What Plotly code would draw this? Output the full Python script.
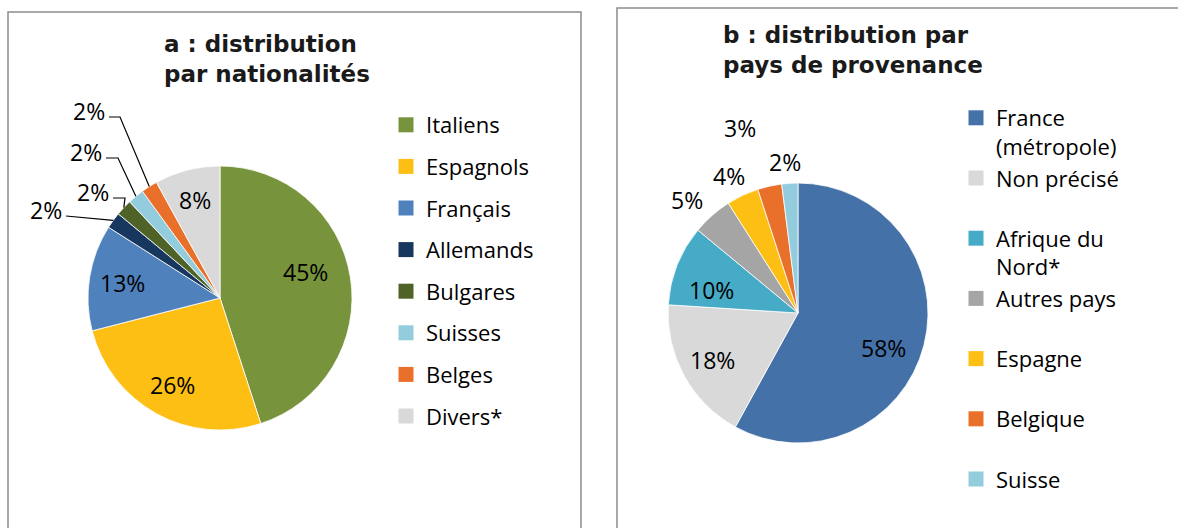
import math
import plotly.graph_objects as go

W, H = 1178, 528

# ---------------- data ----------------
nat_labels = ["Italiens", "Espagnols", "Français", "Allemands", "Bulgares",
              "Suisses", "Belges", "Divers*"]
nat_values = [45, 26, 13, 2, 2, 2, 2, 8]

prov_labels = ["France<br>(métropole)", "Non précisé", "Afrique du<br>Nord*",
               "Autres pays", "Espagne", "Belgique", "Suisse"]
prov_values = [58, 18, 10, 5, 4, 3, 2]

title_a = "a : distribution<br>par nationalités"
title_b = "b : distribution par<br>pays de provenance"

# ---------------- style ----------------
nat_colors = ["#77933C", "#FDBF14", "#4F81BD", "#17375E", "#4F6228",
              "#93CDDD", "#E8702A", "#D9D9D9"]
prov_colors = ["#4472A8", "#D9D9D9", "#46ABC6", "#A5A5A5", "#FDBF14",
               "#E8702A", "#93CDDD"]

PIE_A = dict(cx=220, cy=298, r=132)
PIE_B = dict(cx=798, cy=313, r=130)

LABEL_FONT = dict(family="Open Sans", size=23, color="#000000")
LEGEND_FONT = dict(family="Open Sans", size=22, color="#000000")
TITLE_FONT = dict(family="DejaVu Sans", size=23, color="#1a1a1a")

# inside labels: (radial fraction, angle nudge in degrees) from slice mid-angle
inner_a = {0: (0.68, -8), 1: (0.75, 0), 2: (0.75, 0), 7: (0.77, 0)}
inner_b = {0: (0.71, 8), 1: (0.75, 0), 2: (0.69, -7)}
# outside labels: label centre (px) ; leader horizontal length
outer_a = {3: ((46, 210), 0), 4: ((93, 192), 12), 5: ((86, 152), 12), 6: ((89, 111), 11)}
outer_b = {3: (687, 200), 4: (729, 176), 5: (740, 128), 6: (785, 162)}


def fx(px):
    return px / W


def fy(py):
    return 1 - py / H


def domain(p):
    return dict(x=[fx(p["cx"] - p["r"]), fx(p["cx"] + p["r"])],
                y=[fy(p["cy"] + p["r"]), fy(p["cy"] - p["r"])])


def mid_angles(values):
    tot = float(sum(values))
    out, c = [], 0.0
    for v in values:
        out.append((c + v / 2.0) / tot * 360.0)
        c += v
    return out


def on_pie(p, ang, rf):
    a = math.radians(ang)
    return p["cx"] + rf * p["r"] * math.sin(a), p["cy"] - rf * p["r"] * math.cos(a)


def pct(values):
    tot = float(sum(values))
    return [f"{round(v / tot * 100)}%" for v in values]


def label(x, y, text):
    return dict(x=fx(x), y=fy(y), text=text, showarrow=False, xref="paper",
                yref="paper", xanchor="center", yanchor="middle", font=LABEL_FONT)


fig = go.Figure()

fig.add_trace(go.Pie(labels=nat_labels, values=nat_values, sort=False,
                     direction="clockwise", rotation=0, domain=domain(PIE_A),
                     marker=dict(colors=nat_colors, line=dict(color="white", width=0.8)),
                     textinfo="none", showlegend=False, hoverinfo="label+percent"))
fig.add_trace(go.Pie(labels=prov_labels, values=prov_values, sort=False,
                     direction="clockwise", rotation=0, domain=domain(PIE_B),
                     marker=dict(colors=prov_colors, line=dict(color="white", width=0.8)),
                     textinfo="none", showlegend=False, hoverinfo="label+percent"))

# legends via square markers
for i, (lab, col) in enumerate(zip(nat_labels, nat_colors)):
    fig.add_trace(go.Scatter(x=[None], y=[None], mode="markers", name=lab,
                             legendgroup=f"a{i}", legend="legend",
                             marker=dict(symbol="square", size=15, color=col)))
for lab, col in zip(prov_labels, prov_colors):
    txt = lab if "<br>" in lab else lab + "<br>\u00a0"
    fig.add_trace(go.Scatter(x=[None], y=[None], mode="markers", name=txt,
                             legend="legend2",
                             marker=dict(symbol="square", size=15, color=col)))

annotations = []
shapes = []

# pie A labels
ang_a = mid_angles(nat_values)
txt_a = pct(nat_values)
for i, (rf, da) in inner_a.items():
    x, y = on_pie(PIE_A, ang_a[i] + da, rf)
    annotations.append(label(x, y, txt_a[i]))
for i, ((lx, ly), h) in outer_a.items():
    annotations.append(label(lx, ly, txt_a[i]))
    rx, ry = on_pie(PIE_A, ang_a[i], 1.0)
    x0, y0 = lx + 20, ly + 6
    path = f"M {fx(x0)},{fy(y0)} L {fx(x0 + h)},{fy(y0)} L {fx(rx)},{fy(ry)}"
    shapes.append(dict(type="path", path=path, xref="paper", yref="paper",
                       line=dict(color="#000000", width=1.2)))

# pie B labels
ang_b = mid_angles(prov_values)
txt_b = pct(prov_values)
for i, (rf, da) in inner_b.items():
    x, y = on_pie(PIE_B, ang_b[i] + da, rf)
    annotations.append(label(x, y, txt_b[i]))
for i, (lx, ly) in outer_b.items():
    annotations.append(label(lx, ly, txt_b[i]))

# titles (block centre between the two lines)
for txt, (x, y) in zip([title_a, title_b], [(162, 59), (721, 50)]):
    annotations.append(dict(x=fx(x), y=fy(y), text=f"<b>{txt}</b>", showarrow=False,
                            xref="paper", yref="paper", xanchor="left", yanchor="middle",
                            align="left", font=TITLE_FONT))

# panel frames
shapes.append(dict(type="rect", xref="paper", yref="paper", x0=fx(8), x1=fx(581),
                   y0=fy(545), y1=fy(12), line=dict(color="#8C8C8C", width=1.5)))
shapes.append(dict(type="rect", xref="paper", yref="paper", x0=fx(617), x1=fx(1195),
                   y0=fy(545), y1=fy(8), line=dict(color="#8C8C8C", width=1.5)))

fig.update_layout(
    width=W, height=H,
    margin=dict(l=0, r=0, t=0, b=0, autoexpand=False),
    paper_bgcolor="white", plot_bgcolor="white",
    xaxis=dict(visible=False), yaxis=dict(visible=False),
    showlegend=True,
    legend=dict(x=fx(386), y=fy(104), xanchor="left", yanchor="top",
                font=LEGEND_FONT, tracegroupgap=10, bgcolor="rgba(0,0,0,0)"),
    legend2=dict(x=fx(956), y=fy(97), xanchor="left", yanchor="top",
                 font=LEGEND_FONT, tracegroupgap=0, valign="top",
                 bgcolor="rgba(0,0,0,0)"),
    annotations=annotations,
    shapes=shapes,
)

fig.write_html("out.html", config={"displayModeBar": False},
               post_script="document.body.style.margin='0';document.body.style.overflow='hidden';")
